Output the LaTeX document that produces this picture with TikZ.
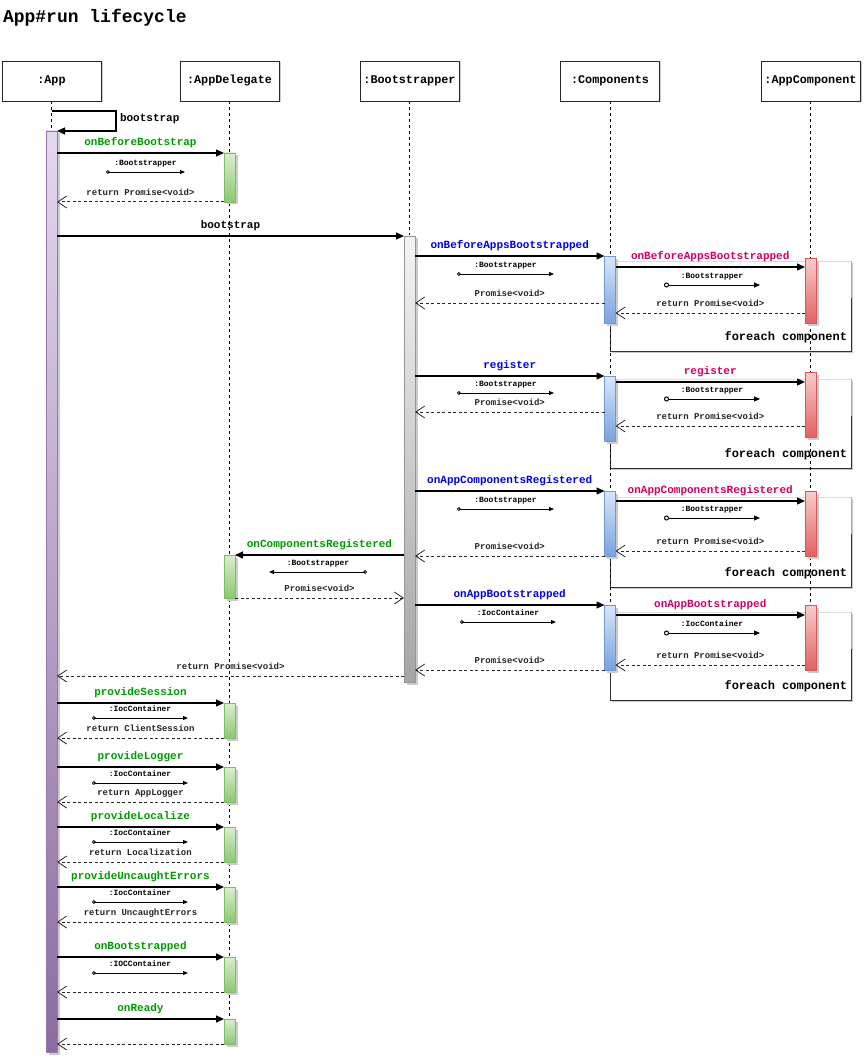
\documentclass[tikz,border=0pt]{standalone}
\usepackage{fontspec}
\setmonofont{Liberation Mono}
\usetikzlibrary{arrows.meta,shadows}

\definecolor{msggreen}{RGB}{0,155,0}
\definecolor{msgblue}{RGB}{0,0,235}
\definecolor{msgred}{RGB}{210,0,100}
\definecolor{purpT}{RGB}{228,216,238}
\definecolor{purpD}{RGB}{140,108,160}
\definecolor{purpB}{RGB}{150,120,172}
\definecolor{greenT}{RGB}{218,238,210}
\definecolor{greenD}{RGB}{140,200,112}
\definecolor{greenB}{RGB}{128,188,100}
\definecolor{grayT}{RGB}{244,244,244}
\definecolor{grayD}{RGB}{165,165,165}
\definecolor{grayB}{RGB}{150,150,150}
\definecolor{blueT}{RGB}{216,230,250}
\definecolor{blueD}{RGB}{122,162,220}
\definecolor{blueB}{RGB}{112,152,212}
\definecolor{redT}{RGB}{248,204,204}
\definecolor{redD}{RGB}{226,98,98}
\definecolor{redB}{RGB}{212,88,88}

\pgfdeclarelayer{bg}
\pgfsetlayers{bg,main}

% activation bar: name, style, x, top, bottom
\newcommand\actbar[5]{%
  \node[#2, minimum height={#5-#4}] (#1) at (#3,{(#4+#5)/2}) {};}
% parameter hint: name, style, start x (circle), end x (tip), y, text
\newcommand\parm[6]{%
  \draw[#2] (#3,#5) -- (#4,#5);
  \node[plbl] (#1) at ({(#3+#4)/2},{#5-8.5}) {#6};}
% loop frame: name, top, bottom
\newcommand\loopframe[3]{%
  \node[frame, minimum height={#3-#2}] (#1) at (730.5,{(#2+#3)/2}) {};
  \draw[black!14, line width=.8pt] (#1.north west) -- (#1.north east);
  \draw[black!30, line width=.8pt] (#1.north east) -- ([yshift=-37pt]#1.north east);
  \draw[black!80, line width=.9pt] ([yshift=-37pt]#1.north east) -- (#1.south east)
     -- (#1.south west) -- (#1.north west);
  \node[flbl, anchor=east, xshift=-4pt, yshift=13.5pt] (#1l) at (#1.south east) {foreach component};}

\begin{document}
\begin{tikzpicture}[x=1pt,y=-1pt,
  every node/.style={inner sep=0pt, outer sep=0pt},
  head/.style={draw=black!85, line width=.8pt, fill=white, minimum width=99pt,
    minimum height=40pt, font=\ttfamily\bfseries\fontsize{11.8}{13}\selectfont,
    text height=7.5pt, text depth=2pt,
    drop shadow={shadow xshift=1.5pt, shadow yshift=-1.5pt, fill=black!20, opacity=1}},
  act/.style={minimum width=11pt, line width=.7pt,
    drop shadow={shadow xshift=2.5pt, shadow yshift=-2.5pt, fill=black!20, opacity=1}},
  actP/.style={act, draw=purpB, top color=purpT, bottom color=purpD},
  actG/.style={act, draw=greenB, top color=greenT, bottom color=greenD},
  actK/.style={act, draw=grayB, top color=grayT, bottom color=grayD},
  actB/.style={act, draw=blueB, top color=blueT, bottom color=blueD},
  actR/.style={act, draw=redB, top color=redT, bottom color=redD},
  life/.style={black, line width=.8pt, dash pattern=on 3pt off 3pt},
  call/.style={black, line width=1.2pt, -{Triangle[length=8pt,width=7pt]}},
  ret/.style={black!85, line width=1pt, dash pattern=on 3pt off 2.5pt,
    -{Straight Barb[length=9pt,width=12pt,line width=.8pt]}},
  param/.style={black, line width=.8pt,
    {Circle[open,length=3.6pt,width=3.6pt]}-{Triangle[length=5pt,width=4pt]}},
  paramL/.style={black, line width=1pt,
    {Circle[open,length=5pt,width=5pt]}-{Triangle[length=6pt,width=5pt]}},
  lbl/.style={font=\ttfamily\bfseries\fontsize{11}{13}\selectfont,
    text height=7pt, text depth=2pt, yshift=10pt},
  rlbl/.style={font=\ttfamily\bfseries\fontsize{9}{11}\selectfont,
    text height=6pt, text depth=1.5pt, yshift=9pt},
  plbl/.style={font=\ttfamily\bfseries\fontsize{8}{10}\selectfont,
    text height=5.5pt, text depth=1.5pt},
  flbl/.style={font=\ttfamily\bfseries\fontsize{12}{14}\selectfont,
    text height=7.5pt, text depth=2pt},
  frame/.style={fill=white, minimum width=241pt,
    drop shadow={shadow xshift=2pt, shadow yshift=-2pt, fill=black!22, opacity=1}}
]
\useasboundingbox (0,0) rectangle (863,1059);

% title
\node[anchor=base west, font=\ttfamily\bfseries\fontsize{18}{20}\selectfont] (title)
  at (3,22.5) {App\#run lifecycle};

% participants
\node[head] (hApp)  at (51.5,81)  {:App};
\node[head] (hDel)  at (229.5,81) {:AppDelegate};
\node[head] (hBoot) at (409.5,81) {:Bootstrapper};
\node[head] (hComp) at (610,81)   {:Components};
\node[head] (hAC)   at (810.5,81) {:AppComponent};

% activation bars
\actbar{appAct}{actP}{51.5}{131}{1052}
\actbar{del1}{actG}{229.5}{153}{202}
\actbar{del2}{actG}{229.5}{555}{598}
\actbar{del3}{actG}{229.5}{703}{738}
\actbar{del4}{actG}{229.5}{767}{802}
\actbar{del5}{actG}{229.5}{827}{862}
\actbar{del6}{actG}{229.5}{887}{922}
\actbar{del7}{actG}{229.5}{957}{992}
\actbar{del8}{actG}{229.5}{1019}{1044}
\actbar{bootAct}{actK}{409.5}{236}{682}
\actbar{comp1}{actB}{610}{256}{323}
\actbar{comp2}{actB}{610}{376}{441}
\actbar{comp3}{actB}{610}{491}{556}
\actbar{comp4}{actB}{610}{605}{670}
\actbar{ac1}{actR}{810.5}{258}{323}
\actbar{ac2}{actR}{810.5}{372}{437}
\actbar{ac3}{actR}{810.5}{491}{556}
\actbar{ac4}{actR}{810.5}{605}{670}

% loop frames and lifelines, behind the bars
\begin{pgfonlayer}{bg}
  \loopframe{fb1}{261}{351}
  \loopframe{fb2}{379}{468}
  \loopframe{fb3}{497}{587}
  \loopframe{fb4}{612}{700}
  \draw[life] (hApp.south)  -- (appAct.north);
  \draw[life] (hDel.south)  -- (del8.south);
  \draw[life] (hBoot.south) -- (bootAct.south);
  \draw[life] (hComp.south) -- (comp4.south);
  \draw[life] (hAC.south)   -- (ac4.south);
\end{pgfonlayer}

% self call
\coordinate (selfA) at (116,111);
\coordinate (selfB) at (116,131);
\draw[call] (hApp.south |- selfA) -- (selfA) -- (selfB) -- (appAct.north east);
\node[anchor=west, font=\ttfamily\bfseries\fontsize{11}{13}\selectfont,
  text height=7pt, text depth=2pt] (mSelf) at (120,119) {bootstrap};

% onBeforeBootstrap
\draw[call] (appAct.east |- del1.north) --
  node[lbl, text=msggreen] (m1) {onBeforeBootstrap} (del1.north west);
\parm{p1}{param}{106}{185}{172}{:Bootstrapper}
\draw[ret] (del1.south west) --
  node[rlbl] (r1) {return Promise<void>} (appAct.east |- del1.south west);

% bootstrap
\draw[call] (appAct.east |- bootAct.north) --
  node[lbl] (m2) {bootstrap} (bootAct.north west);

% onBeforeAppsBootstrapped
\draw[call] (bootAct.east |- comp1.north) --
  node[lbl, text=msgblue] (m3) {onBeforeAppsBootstrapped} (comp1.north west);
\parm{p2}{param}{457}{554}{274}{:Bootstrapper}
\draw[ret] (comp1.west |- 0,303) --
  node[rlbl] (r3) {Promise<void>} (bootAct.east |- 0,303);
\draw[call] (comp1.east |- 0,267) --
  node[lbl, text=msgred] (m4) {onBeforeAppsBootstrapped} (ac1.west |- 0,267);
\parm{p3}{paramL}{664}{760}{285}{:Bootstrapper}
\draw[ret] (ac1.west |- 0,313) --
  node[rlbl] (r4) {return Promise<void>} (comp1.east |- 0,313);

% register
\draw[call] (bootAct.east |- comp2.north) --
  node[lbl, text=msgblue] (m5) {register} (comp2.north west);
\parm{p4}{param}{457}{554}{393}{:Bootstrapper}
\draw[ret] (comp2.west |- 0,412) --
  node[rlbl] (r5) {Promise<void>} (bootAct.east |- 0,412);
\draw[call] (comp2.east |- 0,382) --
  node[lbl, text=msgred] (m6) {register} (ac2.west |- 0,382);
\parm{p5}{paramL}{664}{760}{399}{:Bootstrapper}
\draw[ret] (ac2.west |- 0,426) --
  node[rlbl] (r6) {return Promise<void>} (comp2.east |- 0,426);

% onAppComponentsRegistered
\draw[call] (bootAct.east |- comp3.north) --
  node[lbl, text=msgblue] (m7) {onAppComponentsRegistered} (comp3.north west);
\parm{p6}{param}{457}{554}{509}{:Bootstrapper}
\draw[ret] (comp3.south west) --
  node[rlbl] (r7) {Promise<void>} (bootAct.east |- comp3.south west);
\draw[call] (comp3.east |- 0,501) --
  node[lbl, text=msgred] (m8) {onAppComponentsRegistered} (ac3.west |- 0,501);
\parm{p7}{paramL}{664}{760}{518}{:Bootstrapper}
\draw[ret] (ac3.west |- 0,551) --
  node[rlbl] (r8) {return Promise<void>} (comp3.east |- 0,551);

% onComponentsRegistered
\draw[call] (bootAct.west |- del2.north) --
  node[lbl, text=msggreen] (m9) {onComponentsRegistered} (del2.north east);
\parm{p8}{param}{367}{269}{572}{:Bootstrapper}
\draw[ret] (del2.south east) --
  node[rlbl] (r9) {Promise<void>} (bootAct.west |- del2.south east);

% onAppBootstrapped
\draw[call] (bootAct.east |- comp4.north) --
  node[lbl, text=msgblue] (m10) {onAppBootstrapped} (comp4.north west);
\parm{p9}{param}{460}{556}{622}{:IocContainer}
\draw[ret] (comp4.south west) --
  node[rlbl] (r10) {Promise<void>} (bootAct.east |- comp4.south west);
\draw[call] (comp4.east |- 0,615) --
  node[lbl, text=msgred] (m11) {onAppBootstrapped} (ac4.west |- 0,615);
\parm{p10}{paramL}{664}{760}{633}{:IocContainer}
\draw[ret] (ac4.west |- 0,665) --
  node[rlbl] (r11) {return Promise<void>} (comp4.east |- 0,665);

% bootstrap returns
\draw[ret] (bootAct.west |- 0,676) --
  node[rlbl] (r12) {return Promise<void>} (appAct.east |- 0,676);

% providers
\draw[call] (appAct.east |- del3.north) --
  node[lbl, text=msggreen] (m13) {provideSession} (del3.north west);
\parm{p13}{param}{92}{188}{718}{:IocContainer}
\draw[ret] (del3.south west) --
  node[rlbl] (r13) {return ClientSession} (appAct.east |- del3.south west);

\draw[call] (appAct.east |- del4.north) --
  node[lbl, text=msggreen] (m14) {provideLogger} (del4.north west);
\parm{p14}{param}{92}{188}{783}{:IocContainer}
\draw[ret] (del4.south west) --
  node[rlbl] (r14) {return AppLogger} (appAct.east |- del4.south west);

\draw[call] (appAct.east |- del5.north) --
  node[lbl, text=msggreen] (m15) {provideLocalize} (del5.north west);
\parm{p15}{param}{92}{188}{842}{:IocContainer}
\draw[ret] (del5.south west) --
  node[rlbl] (r15) {return Localization} (appAct.east |- del5.south west);

\draw[call] (appAct.east |- del6.north) --
  node[lbl, text=msggreen] (m16) {provideUncaughtErrors} (del6.north west);
\parm{p16}{param}{92}{188}{902}{:IocContainer}
\draw[ret] (del6.south west) --
  node[rlbl] (r16) {return UncaughtErrors} (appAct.east |- del6.south west);

\draw[call] (appAct.east |- del7.north) --
  node[lbl, text=msggreen] (m17) {onBootstrapped} (del7.north west);
\parm{p17}{param}{92}{188}{973}{:IOCContainer}
\draw[ret] (del7.south west) -- (appAct.east |- del7.south west);

\draw[call] (appAct.east |- del8.north) --
  node[lbl, text=msggreen] (m18) {onReady} (del8.north west);
\draw[ret] (del8.south west) -- (appAct.east |- del8.south west);

\end{tikzpicture}
\end{document}
